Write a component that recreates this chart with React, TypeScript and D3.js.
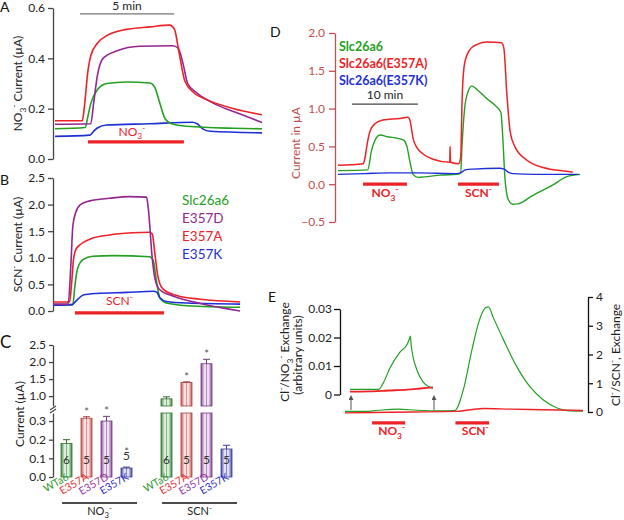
import { useEffect, useRef } from 'react';
import * as d3 from 'd3';

type Pt = [number, number];

const FONT = 'Lato, "Open Sans", sans-serif';
const RED = '#ec2227';
const GREEN = '#23a023';
const PURPLE = '#93278f';
const BLUE = '#1f2fd6';
const D_AXIS = '#c0504d';

// Panel A: NO3- currents, [time (min), current (µA)]
const aRed: Pt[] = [[0, 0.152], [1.45, 0.152], [1.55, 0.2], [1.75, 0.35], [1.9, 0.41], [2.25, 0.46], [2.75, 0.49], [3.8, 0.515], [5.05, 0.525], [6.1, 0.532], [6.35, 0.515], [6.6, 0.42], [6.9, 0.31], [7.35, 0.265], [8.1, 0.235], [9.5, 0.2], [11, 0.176]];
const aPurple: Pt[] = [[0, 0.138], [1.9, 0.14], [2.05, 0.22], [2.25, 0.33], [2.55, 0.4], [3.3, 0.43], [4.5, 0.448], [6.25, 0.45], [6.55, 0.44], [6.8, 0.38], [7.05, 0.3], [7.55, 0.262], [8.6, 0.215], [9.8, 0.18], [11, 0.145]];
const aGreen: Pt[] = [[0, 0.12], [1.6, 0.125], [1.75, 0.17], [1.9, 0.22], [2.25, 0.275], [2.75, 0.3], [3.8, 0.306], [5.05, 0.302], [5.3, 0.285], [5.58, 0.22], [5.85, 0.16], [6.2, 0.14], [7, 0.13], [9.5, 0.122], [11, 0.12]];
const aBlue: Pt[] = [[0, 0.09], [1.85, 0.095], [2.05, 0.11], [2.25, 0.123], [2.75, 0.135], [5, 0.14], [7.3, 0.146], [7.55, 0.14], [7.85, 0.12], [8.25, 0.11], [11, 0.104]];
const aTicks = [0, 0.2, 0.4, 0.6];
const aNO3: Pt = [1.75, 6.85];
const aScaleBar: Pt = [1.33, 6.33];

// Panel B: SCN- currents
const bRed: Pt[] = [[0, 0.17], [0.88, 0.17], [0.98, 0.5], [1.08, 0.95], [1.2, 1.15], [1.45, 1.25], [1.95, 1.35], [3, 1.43], [4.2, 1.47], [5.1, 1.48], [5.25, 1.45], [5.4, 1.05], [5.55, 0.65], [5.8, 0.42], [6.55, 0.29], [7.8, 0.22], [9.9, 0.17]];
const bPurple: Pt[] = [[0, 0.13], [0.8, 0.13], [0.95, 0.9], [1.05, 1.6], [1.2, 1.85], [1.45, 2.0], [1.95, 2.07], [3, 2.12], [4.05, 2.15], [4.95, 2.14], [5.05, 1.9], [5.25, 1.0], [5.4, 0.6], [5.65, 0.4], [6.35, 0.28], [7.8, 0.14], [9.9, 0.0]];
const bGreen: Pt[] = [[0, 0.12], [1.05, 0.12], [1.15, 0.45], [1.3, 0.8], [1.6, 0.97], [2.1, 1.03], [3.2, 1.04], [5.1, 1.02], [5.3, 0.95], [5.5, 0.5], [5.65, 0.25], [6.0, 0.15], [7.1, 0.1], [9.9, 0.07]];
const bBlue: Pt[] = [[0, 0.11], [1.0, 0.12], [1.25, 0.2], [1.6, 0.3], [2.3, 0.33], [3.9, 0.35], [5.3, 0.37], [5.5, 0.35], [5.65, 0.25], [6.0, 0.18], [7.1, 0.15], [9.9, 0.13]];
const bTicks = [0, 0.5, 1, 1.5, 2, 2.5];
const bSCN: Pt = [1.16, 5.87];
const bLegend = ['Slc26a6', 'E357D', 'E357A', 'E357K'];
const bLegendColors = [GREEN, PURPLE, RED, BLUE];

// Panel C: mean currents (µA)
const cCats = ['WTa6', 'E357A', 'E357D', 'E357K'];
const cCatColors = ['#2e9a2e', '#e83030', '#9932a8', '#2f2fc8'];
const cBarColors = ['#3d8f3d', '#d45555', '#8e4a9e', '#4a4ab8'];
const cNO3 = [0.18, 0.315, 0.3, 0.048];
const cNO3Err = [0.02, 0.008, 0.025, 0.005];
const cSCN = [0.92, 1.4, 1.95, 0.15];
const cSCNErr = [0.06, 0.02, 0.13, 0.02];
const cN = [6, 5, 5, 5];
const cNO3Sig = [false, true, true, true];
const cSCNSig = [false, true, true, false];
const cLowTicks = [0, 0.1, 0.2, 0.3];
const cUpTicks = [1, 1.5, 2, 2.5];
const cBreak: Pt = [0.343, 0.71];

// Panel D: currents, [time (min), µA]
const dGreen: Pt[] = [[0, 0.18], [4.5, 0.19], [5.1, 0.45], [5.6, 0.58], [6.4, 0.65], [7.4, 0.63], [9.4, 0.6], [10, 0.58], [10.45, 0.5], [10.9, 0.3], [11.4, 0.13], [12.1, 0.09], [13.5, 0.1], [15.5, 0.12], [18, 0.13], [18.6, 0.15], [18.8, 0.5], [19.2, 1.0], [19.7, 1.22], [20.3, 1.3], [21.1, 1.25], [22.6, 1.13], [24.1, 1.02], [24.7, 0.95], [25, 0.6], [25.3, 0.1], [25.8, -0.2], [26.5, -0.265], [27.3, -0.26], [29.5, -0.15], [32.6, -0.01], [34.7, 0.1], [36.7, 0.13]];
const dRed: Pt[] = [[0, 0.25], [3.8, 0.27], [4.1, 0.35], [4.4, 0.52], [4.85, 0.7], [5.6, 0.8], [6.8, 0.85], [9.4, 0.87], [10.6, 0.885], [10.9, 0.85], [11.4, 0.6], [12, 0.48], [12.9, 0.4], [14.4, 0.33], [16.95, 0.29], [17.0, 0.5], [17.05, 0.29], [18.3, 0.27], [18.6, 0.35], [18.85, 1.2], [19.2, 1.6], [20, 1.78], [21.1, 1.85], [22.6, 1.88], [24.8, 1.87], [25.15, 1.8], [25.6, 1.2], [26.1, 0.7], [26.8, 0.5], [28.6, 0.32], [31.1, 0.22], [34.7, 0.17], [35.6, 0.16]];
const dBlue: Pt[] = [[0, 0.13], [4, 0.14], [8, 0.15], [12, 0.15], [18, 0.14], [18.6, 0.15], [19.3, 0.19], [20.5, 0.2], [24.5, 0.21], [25.2, 0.2], [25.8, 0.16], [26.5, 0.14], [30, 0.13], [36.5, 0.13]];
const dTicks = [-0.5, 0, 0.5, 1, 1.5, 2];
const dNO3: Pt = [3.8, 10.45];
const dSCN: Pt = [18.2, 24.4];
const dScaleBar: Pt = [2.12, 12.12];
const dLegend = ['Slc26a6', 'Slc26a6(E357A)', 'Slc26a6(E357K)'];
const dLegendColors = [GREEN, RED, BLUE];

// Panel E: exchange, main traces on right axis, NO3- inset on left axis
const eGreen: Pt[] = [[0, 0.02], [3, 0.02], [5, 0.06], [8, 0.1], [11, 0.06], [14, 0.04], [16.6, 0.05], [17.9, 0.77], [19.2, 2.16], [20.2, 3.1], [21.2, 3.62], [21.7, 3.66], [22.4, 3.3], [24, 2.5], [26, 1.57], [28, 0.87], [30, 0.42], [32.1, 0.14], [33.6, 0.05], [36, 0.03]];
const eRed: Pt[] = [[0, -0.03], [10, 0], [16.7, 0.02], [19, 0.08], [21, 0.12], [25, 0.1], [30, 0.08], [36, 0.05]];
const eInsetGreen: Pt[] = [[0, 0.0018], [4.5, 0.0018], [5.2, 0.004], [6.3, 0.0095], [7.8, 0.0148], [9.0, 0.0178], [9.3, 0.0195], [9.45, 0.0205], [9.6, 0.017], [10.5, 0.0085], [11.4, 0.0045], [12.3, 0.0028], [13, 0.0022]];
const eInsetRed: Pt[] = [[0, 0.001], [3, 0.0011], [6, 0.0014], [9, 0.0017], [11, 0.0021], [13, 0.0025]];
const eLeftTicks = [0, 0.01, 0.02, 0.03];
const eRightTicks = [0, 1, 2, 3, 4];
const eNO3: Pt = [4.1, 9.1];
const eSCN: Pt = [16.7, 21.8];

type Seg = [string, string];
const NO3: Seg[] = [['NO', 'n'], ['3', 'sub'], ['-', 'sup']];
const SCN: Seg[] = [['SCN', 'n'], ['-', 'sup']];

function rich(sel: any, segs: Seg[], fs: number) {
  let cur = 0;
  segs.forEach(([s, k]) => {
    const off = k === 'sub' ? fs * 0.3 : k === 'sup' ? -fs * 0.4 : 0;
    const t = sel.append('tspan').attr('dy', off - cur).text(s);
    if (k !== 'n') t.attr('font-size', fs * 0.7);
    cur = off;
  });
}

function styleAxis(g: any, color: string, textColor: string, fs: number) {
  g.attr('font-family', FONT).attr('font-size', fs);
  g.select('.domain').attr('stroke', color).attr('stroke-width', 1.3);
  g.selectAll('.tick line').attr('stroke', color).attr('stroke-width', 1.3);
  g.selectAll('.tick text').attr('fill', textColor);
}

function trace(g: any, data: Pt[], x: any, y: any, color: string, w: number) {
  const line = d3.line<Pt>().x(d => x(d[0])).y(d => y(d[1])).curve(d3.curveMonotoneX);
  g.append('path').datum(data).attr('fill', 'none').attr('stroke', color)
    .attr('stroke-width', w).attr('stroke-linejoin', 'round').attr('d', line);
}

function label(g: any, x: number, y: number, s: string, size = 14) {
  g.append('text').attr('x', x).attr('y', y).attr('font-size', size).attr('fill', '#111').text(s);
}

export default function App() {
  const ref = useRef<SVGSVGElement>(null);

  useEffect(() => {
    const svg = d3.select(ref.current);
    svg.selectAll('*').remove();
    const defs = svg.append('defs');

    // ---------- Panel A
    const xA = d3.scaleLinear().domain([0, 11]).range([55, 262]);
    const yA = d3.scaleLinear().domain([0, 0.6]).range([159, 8]);
    label(svg, 0, 12, 'A');
    const axA = svg.append('g').attr('transform', 'translate(53,0)')
      .call(d3.axisLeft(yA).tickValues(aTicks).tickFormat(d3.format('.1f') as any).tickSize(5).tickSizeOuter(0).tickPadding(3));
    styleAxis(axA, '#444', '#222', 12);
    rich(svg.append('text').attr('transform', `translate(22,${(yA(0) + yA(0.6)) / 2}) rotate(-90)`)
      .attr('text-anchor', 'middle').attr('font-size', 12).attr('fill', '#222'),
      [...NO3, [' Current (µA)', 'n']], 12);
    svg.append('line').attr('x1', xA(aScaleBar[0])).attr('x2', xA(aScaleBar[1]))
      .attr('y1', yA(0.577)).attr('y2', yA(0.577)).attr('stroke', '#777').attr('stroke-width', 1.2);
    svg.append('text').attr('x', xA((aScaleBar[0] + aScaleBar[1]) / 2)).attr('y', yA(0.577) - 4)
      .attr('text-anchor', 'middle').attr('font-size', 12).attr('fill', '#222').text('5 min');
    [[aBlue, BLUE], [aGreen, GREEN], [aPurple, PURPLE], [aRed, RED]].forEach(([d, c]: any) => trace(svg, d, xA, yA, c, 1.6));
    svg.append('line').attr('x1', xA(aNO3[0])).attr('x2', xA(aNO3[1]))
      .attr('y1', yA(0.068)).attr('y2', yA(0.068)).attr('stroke', RED).attr('stroke-width', 3.4);
    rich(svg.append('text').attr('x', xA((aNO3[0] + aNO3[1]) / 2) - 4).attr('y', yA(0.068) - 6)
      .attr('text-anchor', 'middle').attr('font-size', 12).attr('fill', RED), NO3, 12);

    // ---------- Panel B
    const xB = d3.scaleLinear().domain([0, 10]).range([53, 242]);
    const yB = d3.scaleLinear().domain([0, 2.5]).range([311, 178]);
    label(svg, 0, 185, 'B');
    const axB = svg.append('g').attr('transform', 'translate(53,0)')
      .call(d3.axisLeft(yB).tickValues(bTicks).tickFormat(d3.format('.1f') as any).tickSize(5).tickSizeOuter(0).tickPadding(3));
    styleAxis(axB, '#444', '#222', 12);
    rich(svg.append('text').attr('transform', `translate(22,${(yB(0) + yB(2.5)) / 2}) rotate(-90)`)
      .attr('text-anchor', 'middle').attr('font-size', 12).attr('fill', '#222'),
      [...SCN, [' Current (µA)', 'n']], 12);
    [[bGreen, GREEN], [bBlue, BLUE], [bRed, RED], [bPurple, PURPLE]].forEach(([d, c]: any) => trace(svg, d, xB, yB, c, 1.6));
    svg.append('line').attr('x1', xB(bSCN[0])).attr('x2', xB(bSCN[1]))
      .attr('y1', yB(-0.035)).attr('y2', yB(-0.035)).attr('stroke', RED).attr('stroke-width', 3.4);
    rich(svg.append('text').attr('x', xB((bSCN[0] + bSCN[1]) / 2)).attr('y', yB(-0.035) - 8)
      .attr('text-anchor', 'middle').attr('font-size', 12).attr('fill', RED), SCN, 12);
    bLegend.forEach((s, i) => {
      svg.append('text').attr('x', 182).attr('y', 205 + i * 18).attr('font-size', 13.5)
        .attr('fill', bLegendColors[i]).text(s);
    });

    // ---------- Panel C
    label(svg, 0, 348, 'C', 17);
    const cKeys = ['n0', 'n1', 'n2', 'n3', 'gap', 's0', 's1', 's2', 's3'];
    const xC = d3.scaleBand().domain(cKeys).range([61, 232]).paddingInner(0.45);
    const bw = xC.bandwidth();
    const cLow = d3.scaleLinear().domain([0, cBreak[0]]).range([477, 413]);
    const cUp = d3.scaleLinear().domain([cBreak[1], 2.5]).range([406, 345]);
    const yC = (v: number) => (v <= cBreak[0] ? cLow(v) : cUp(v));
    const axCl = svg.append('g').attr('transform', 'translate(53,0)')
      .call(d3.axisLeft(cLow).tickValues(cLowTicks).tickFormat(d3.format('.1f') as any).tickSize(4).tickSizeOuter(0).tickPadding(3));
    styleAxis(axCl, '#444', '#222', 12);
    const axCu = svg.append('g').attr('transform', 'translate(53,0)')
      .call(d3.axisLeft(cUp).tickValues(cUpTicks).tickFormat(d3.format('.1f') as any).tickSize(4).tickSizeOuter(0).tickPadding(3));
    styleAxis(axCu, '#444', '#222', 12);
    [cUp(cBreak[1]) + 2, cLow(cBreak[0]) - 2].forEach(yy => {
      svg.append('line').attr('x1', 50).attr('x2', 56).attr('y1', yy + 2).attr('y2', yy - 2)
        .attr('stroke', '#444').attr('stroke-width', 1.2);
    });
    svg.append('text').attr('transform', 'translate(24,414) rotate(-90)').attr('text-anchor', 'middle')
      .attr('font-size', 12).attr('fill', '#222').text('Current (µA)');

    cBarColors.forEach((c, i) => {
      const light = d3.interpolateRgb(c, '#fff')(0.5);
      const mid = d3.interpolateRgb(c, '#fff')(0.35);
      const gr = defs.append('linearGradient').attr('id', `cbar${i}`).attr('x1', 0).attr('x2', 1).attr('y1', 0).attr('y2', 0);
      [[0, c], [0.2, light], [0.38, '#fff'], [0.5, mid], [0.62, '#fff'], [0.8, light], [1, c]].forEach(([o, col]) => {
        gr.append('stop').attr('offset', o as number).attr('stop-color', col as string);
      });
    });

    const groups = [
      { key: 'n', vals: cNO3, err: cNO3Err, sig: cNO3Sig, name: NO3 },
      { key: 's', vals: cSCN, err: cSCNErr, sig: cSCNSig, name: SCN },
    ];
    groups.forEach(gp => {
      gp.vals.forEach((v, i) => {
        const x0 = xC(gp.key + i) as number;
        const cx = x0 + bw / 2;
        const stroke = d3.color(cBarColors[i])!.darker(0.7).toString();
        const rect = (y1: number, y2: number) => svg.append('rect').attr('x', x0).attr('y', y1).attr('width', bw)
          .attr('height', y2 - y1).attr('fill', `url(#cbar${i})`).attr('stroke', stroke).attr('stroke-width', 0.8);
        if (v <= cBreak[0]) rect(cLow(v), cLow(0));
        else {
          rect(cLow(cBreak[0]), cLow(0));
          rect(cUp(v), cUp(cBreak[1]));
        }
        const top = yC(v + gp.err[i]);
        svg.append('line').attr('x1', cx).attr('x2', cx).attr('y1', yC(v)).attr('y2', top).attr('stroke', stroke).attr('stroke-width', 1);
        svg.append('line').attr('x1', cx - 3.5).attr('x2', cx + 3.5).attr('y1', top).attr('y2', top).attr('stroke', stroke).attr('stroke-width', 1);
        const small = v < 0.1;
        const ny = small ? top - 7 : 464;
        svg.append('text').attr('x', cx).attr('y', ny).attr('text-anchor', 'middle').attr('font-size', 12)
          .attr('fill', '#333').text(cN[i]);
        if (gp.sig[i]) {
          svg.append('text').attr('x', cx).attr('y', small ? ny - 4 : top - 1).attr('text-anchor', 'middle')
            .attr('font-size', 11).attr('fill', '#555').text('*');
        }
        svg.append('text').attr('transform', `translate(${cx + 3},479) rotate(-30)`).attr('text-anchor', 'end')
          .attr('font-size', 10.5).attr('fill', cCatColors[i]).text(cCats[i]);
      });
      const lx1 = (xC(gp.key + 0) as number) + 1;
      const lx2 = (xC(gp.key + 3) as number) + bw + 5;
      svg.append('line').attr('x1', lx1).attr('x2', lx2).attr('y1', 503).attr('y2', 503).attr('stroke', '#111').attr('stroke-width', 1.3);
      rich(svg.append('text').attr('x', (lx1 + lx2) / 2).attr('y', 515).attr('text-anchor', 'middle')
        .attr('font-size', 11).attr('fill', '#222'), gp.name, 11);
    });

    // ---------- Panel D
    const xD = d3.scaleLinear().domain([0, 37]).range([338, 582]);
    const yD = d3.scaleLinear().domain([-0.5, 2]).range([222, 33]);
    label(svg, 270, 37, 'D');
    const axD = svg.append('g').attr('transform', 'translate(335,0)')
      .call(d3.axisLeft(yD).tickValues(dTicks).tickFormat(d3.format('.1f') as any).tickSize(6).tickSizeOuter(0).tickPadding(4));
    styleAxis(axD, D_AXIS, D_AXIS, 12);
    svg.append('text').attr('transform', 'translate(300,143) rotate(-90)').attr('text-anchor', 'middle')
      .attr('font-size', 12).attr('fill', D_AXIS).text('Current in µA');
    dLegend.forEach((s, i) => {
      svg.append('text').attr('x', 339).attr('y', 51 + i * 17).attr('font-size', 12.5).attr('font-weight', 700)
        .attr('fill', dLegendColors[i]).text(s);
    });
    svg.append('line').attr('x1', xD(dScaleBar[0])).attr('x2', xD(dScaleBar[1]))
      .attr('y1', yD(1.06)).attr('y2', yD(1.06)).attr('stroke', '#444').attr('stroke-width', 1.2);
    svg.append('text').attr('x', xD((dScaleBar[0] + dScaleBar[1]) / 2)).attr('y', yD(1.06) - 5)
      .attr('text-anchor', 'middle').attr('font-size', 12).attr('fill', '#222').text('10 min');
    trace(svg, dGreen, xD, yD, GREEN, 1.4);
    trace(svg, dRed, xD, yD, RED, 1.5);
    trace(svg, dBlue, xD, yD, BLUE, 1.4);
    [[dNO3, NO3], [dSCN, SCN]].forEach(([p, name]: any) => {
      svg.append('line').attr('x1', xD(p[0])).attr('x2', xD(p[1])).attr('y1', yD(0)).attr('y2', yD(0))
        .attr('stroke', RED).attr('stroke-width', 3.2);
      rich(svg.append('text').attr('x', xD((p[0] + p[1]) / 2)).attr('y', yD(0) + 13).attr('text-anchor', 'middle')
        .attr('font-size', 12).attr('font-weight', 700).attr('fill', RED), name, 12);
    });

    // ---------- Panel E
    const xE = d3.scaleLinear().domain([0, 36]).range([345, 583]);
    const xEi = d3.scaleLinear().domain([0, 13]).range([350, 433]);
    const yER = d3.scaleLinear().domain([0, 4]).range([412, 297]);
    const yEL = d3.scaleLinear().domain([0, 0.03]).range([394.5, 309]);
    label(svg, 268, 302, 'E');
    const axEL = svg.append('g').attr('transform', 'translate(340,0)')
      .call(d3.axisLeft(yEL).tickValues(eLeftTicks).tickFormat((d: any) => (d === 0 ? '0' : d3.format('.2f')(d))).tickSize(6).tickSizeOuter(0).tickPadding(2));
    styleAxis(axEL, '#111', '#222', 12);
    const axER = svg.append('g').attr('transform', 'translate(588,0)')
      .call(d3.axisRight(yER).tickValues(eRightTicks).tickFormat(d3.format('d') as any).tickSize(5).tickSizeOuter(0).tickPadding(3));
    styleAxis(axER, '#111', '#222', 12);
    rich(svg.append('text').attr('transform', 'translate(289,352) rotate(-90)').attr('text-anchor', 'middle')
      .attr('font-size', 12).attr('fill', '#222'),
      [['Cl', 'n'], ['-', 'sup'], ['/NO', 'n'], ['3', 'sub'], ['-', 'sup'], [' Exchange', 'n']], 12);
    svg.append('text').attr('transform', 'translate(302,355) rotate(-90)').attr('text-anchor', 'middle')
      .attr('font-size', 12).attr('fill', '#222').text('(arbitrary units)');
    rich(svg.append('text').attr('transform', 'translate(620,355) rotate(-90)').attr('text-anchor', 'middle')
      .attr('font-size', 12).attr('fill', '#222'),
      [['Cl', 'n'], ['-', 'sup'], ['/SCN', 'n'], ['-', 'sup'], [', Exchange', 'n']], 12);
    trace(svg, eGreen, xE, yER, GREEN, 1.2);
    trace(svg, eRed, xE, yER, RED, 1.4);
    trace(svg, eInsetGreen, xEi, yEL, GREEN, 1.2);
    trace(svg, eInsetRed, xEi, yEL, RED, 1.8);
    defs.append('marker').attr('id', 'arr').attr('viewBox', '0 0 10 10').attr('refX', 5).attr('refY', 5)
      .attr('markerWidth', 5).attr('markerHeight', 5).attr('orient', 'auto')
      .append('path').attr('d', 'M0,0L10,5L0,10Z').attr('fill', '#555');
    [0, 13].forEach(t => {
      svg.append('line').attr('x1', xEi(t) + 1).attr('x2', xEi(t) + 1).attr('y1', yER(0) - 2).attr('y2', yEL(0) + 3)
        .attr('stroke', '#555').attr('stroke-width', 1).attr('marker-end', 'url(#arr)');
    });
    [[eNO3, NO3], [eSCN, SCN]].forEach(([p, name]: any) => {
      svg.append('line').attr('x1', xE(p[0])).attr('x2', xE(p[1])).attr('y1', yER(-0.38)).attr('y2', yER(-0.38))
        .attr('stroke', RED).attr('stroke-width', 3.2);
      rich(svg.append('text').attr('x', xE((p[0] + p[1]) / 2) + 3).attr('y', yER(-0.38) + 12).attr('text-anchor', 'middle')
        .attr('font-size', 12).attr('font-weight', 700).attr('fill', RED), name, 12);
    });
  }, []);

  return (
    <svg ref={ref} width={624} height={520} fontFamily={FONT}
      style={{ position: 'absolute', left: 0, top: 0, background: '#fff' }} />
  );
}
